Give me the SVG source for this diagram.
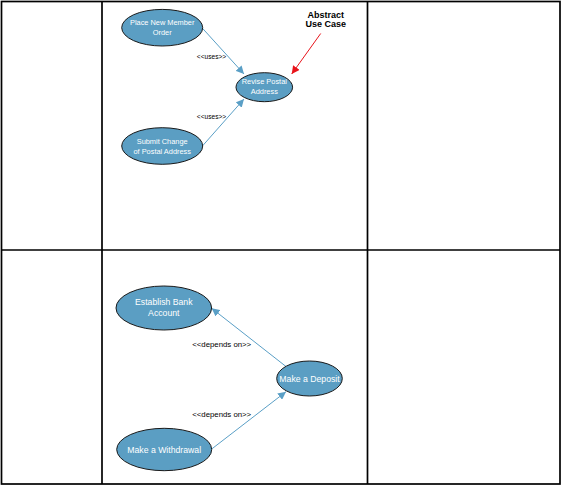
<svg xmlns="http://www.w3.org/2000/svg" width="563" height="485" viewBox="0 0 563 485">
<defs>
<style>
.grid{fill:none;stroke:#000;stroke-width:1.7}
.uc{fill:#5b9ec3;stroke:#1a1a1a;stroke-width:1}
.t{font-family:"Liberation Sans",Arial,sans-serif;fill:#fff;text-anchor:middle}
.lbl{font-family:"Liberation Sans",Arial,sans-serif;fill:#000;text-anchor:middle}
.conn{stroke:#5a9fc6;stroke-width:1;fill:none}
</style>
<marker id="ah" viewBox="0 0 10 10" refX="10" refY="5" markerWidth="8" markerHeight="8" markerUnits="userSpaceOnUse" orient="auto">
<path d="M0,0 L10,5 L0,10 z" fill="#5a9fc6"/>
</marker>
<marker id="ahr" viewBox="0 0 10 10" refX="10" refY="5" markerWidth="8" markerHeight="8" markerUnits="userSpaceOnUse" orient="auto">
<path d="M0,0 L10,5 L0,10 z" fill="#e8141b"/>
</marker>
</defs>
<rect width="563" height="485" fill="#fff"/>
<g id="table">
<rect class="grid" x="1.5" y="1.5" width="558.5" height="482.5"/>
<line class="grid" x1="102" y1="1.5" x2="102" y2="484"/>
<line class="grid" x1="367.5" y1="1.5" x2="367.5" y2="484"/>
<line class="grid" x1="1.5" y1="250" x2="560" y2="250"/>
</g>
<g id="connectors">
<line class="conn" x1="202.7" y1="28.5" x2="244" y2="74" marker-end="url(#ah)"/>
<line class="conn" x1="202.7" y1="145.7" x2="244" y2="99" marker-end="url(#ah)"/>
<line class="conn" x1="286" y1="366.5" x2="211.7" y2="308.3" marker-end="url(#ah)"/>
<line class="conn" x1="211.7" y1="449" x2="286" y2="391.7" marker-end="url(#ah)"/>
<line x1="320.7" y1="33.5" x2="291.7" y2="74" stroke="#e8141b" stroke-width="1" marker-end="url(#ahr)"/>
<text class="lbl" x="211.5" y="59.3" font-size="6.6">&lt;&lt;uses&gt;&gt;</text>
<text class="lbl" x="211.5" y="118.7" font-size="6.6">&lt;&lt;uses&gt;&gt;</text>
<text class="lbl" x="221.7" y="346.7" font-size="7.8">&lt;&lt;depends on&gt;&gt;</text>
<text class="lbl" x="221.7" y="416.7" font-size="7.8">&lt;&lt;depends on&gt;&gt;</text>
</g>
<g id="abstract-note">
<text class="lbl" x="325.7" y="18" font-size="9" font-weight="bold">Abstract</text>
<text class="lbl" x="325.7" y="27" font-size="9" font-weight="bold">Use Case</text>
</g>
<g id="place-order">
<ellipse class="uc" cx="162.2" cy="27.7" rx="40.5" ry="18.3"/>
<text class="t" x="162.2" y="25.3" font-size="7.4">Place New Member</text>
<text class="t" x="162.2" y="35" font-size="7.4">Order</text>
</g>
<g id="revise-address">
<ellipse class="uc" cx="264.3" cy="87.2" rx="28.3" ry="14.5"/>
<text class="t" x="264.3" y="84.3" font-size="7.4">Revise Postal</text>
<text class="t" x="264.3" y="94.3" font-size="7.4">Address</text>
</g>
<g id="submit-change">
<ellipse class="uc" cx="162.2" cy="146" rx="40.5" ry="18.3"/>
<text class="t" x="162.2" y="144.3" font-size="7.4">Submit Change</text>
<text class="t" x="162.2" y="153.7" font-size="7.4">of Postal Address</text>
</g>
<g id="establish-account">
<ellipse class="uc" cx="163.8" cy="308" rx="47.8" ry="22"/>
<text class="t" x="163.8" y="305.4" font-size="8.7">Establish Bank</text>
<text class="t" x="163.8" y="316.1" font-size="8.7">Account</text>
</g>
<g id="make-deposit">
<ellipse class="uc" cx="309.5" cy="378.5" rx="32.8" ry="17.5"/>
<text class="t" x="309.5" y="381.8" font-size="8.7">Make a Deposit</text>
</g>
<g id="make-withdrawal">
<ellipse class="uc" cx="164.2" cy="449.5" rx="47.5" ry="21.2"/>
<text class="t" x="164.2" y="452.5" font-size="8.7">Make a Withdrawal</text>
</g>
</svg>
